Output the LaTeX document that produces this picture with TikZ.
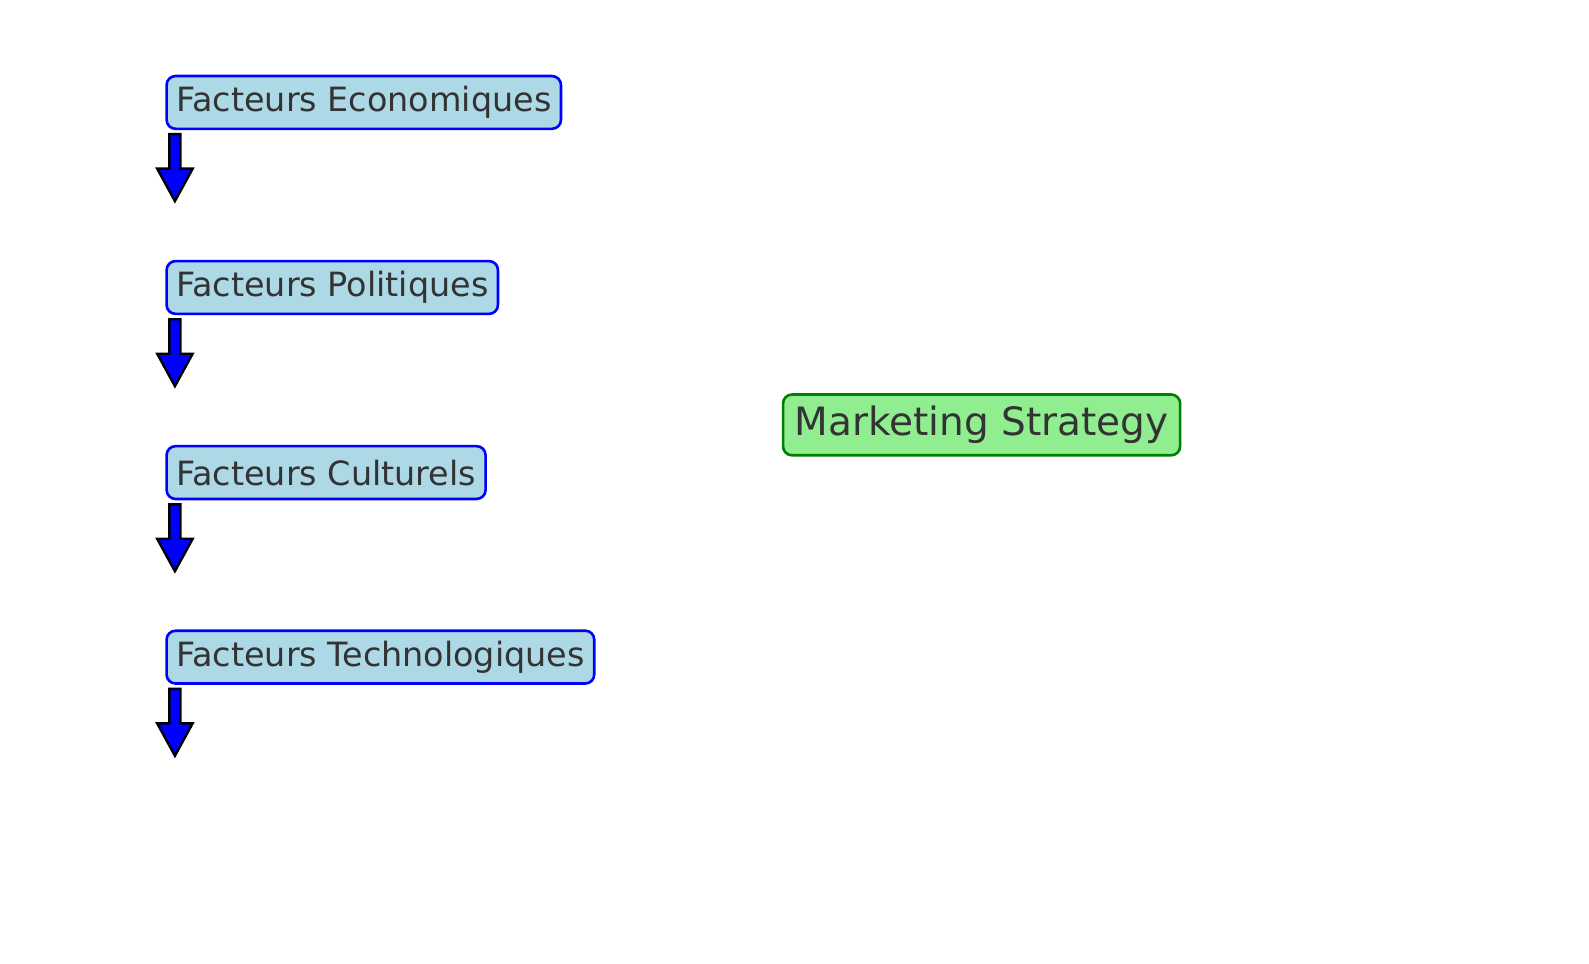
\documentclass[tikz,border=0pt]{standalone}
\usepackage{fontspec}
\setmainfont{DejaVu Sans}
\usetikzlibrary{calc}
\definecolor{boxblue}{HTML}{ADD8E6}
\definecolor{boxgreen}{HTML}{90EE90}
\definecolor{edgegreen}{HTML}{008000}
\definecolor{txt}{HTML}{333333}
\tikzset{
  factor/.style={draw=blue, fill=boxblue, line width=1.3pt, rounded corners=4.5pt,
    anchor=west, inner xsep=4.8pt, inner ysep=0pt, minimum height=26.4pt,
    text=txt, font=\fontsize{16.7}{19}\selectfont},
  strat/.style={draw=edgegreen, fill=boxgreen, line width=1.3pt, rounded corners=4.5pt,
    inner xsep=5.8pt, inner ysep=0pt, minimum height=30.4pt,
    text=txt, font=\fontsize{19.5}{22}\selectfont},
  downarrow/.style={draw=black, fill=blue, line width=1.2pt, line join=miter}
}
\begin{document}
\begin{tikzpicture}[x=0.507pt,y=-0.507pt]
\useasboundingbox (0,0) rectangle (1567,950.6);
\node[factor] (e) at (163,101) {Facteurs Economiques};
\node[factor] (p) at (163,283.5) {Facteurs Politiques};
\node[factor] (c) at (163,466) {Facteurs Culturels};
\node[factor] (t) at (163,648) {Facteurs Technologiques};
\node[strat] (m) at (968,419) {Marketing Strategy};
\foreach \n in {e,p,c,t}{
  \draw[downarrow] ($(\n.south west)+(4,4)$) -- ++(11,0) -- ++(0,34) -- ++(12,0)
    -- ++(-17.5,32) -- ++(-17.5,-32) -- ++(12,0) -- cycle;
}
\end{tikzpicture}
\end{document}
